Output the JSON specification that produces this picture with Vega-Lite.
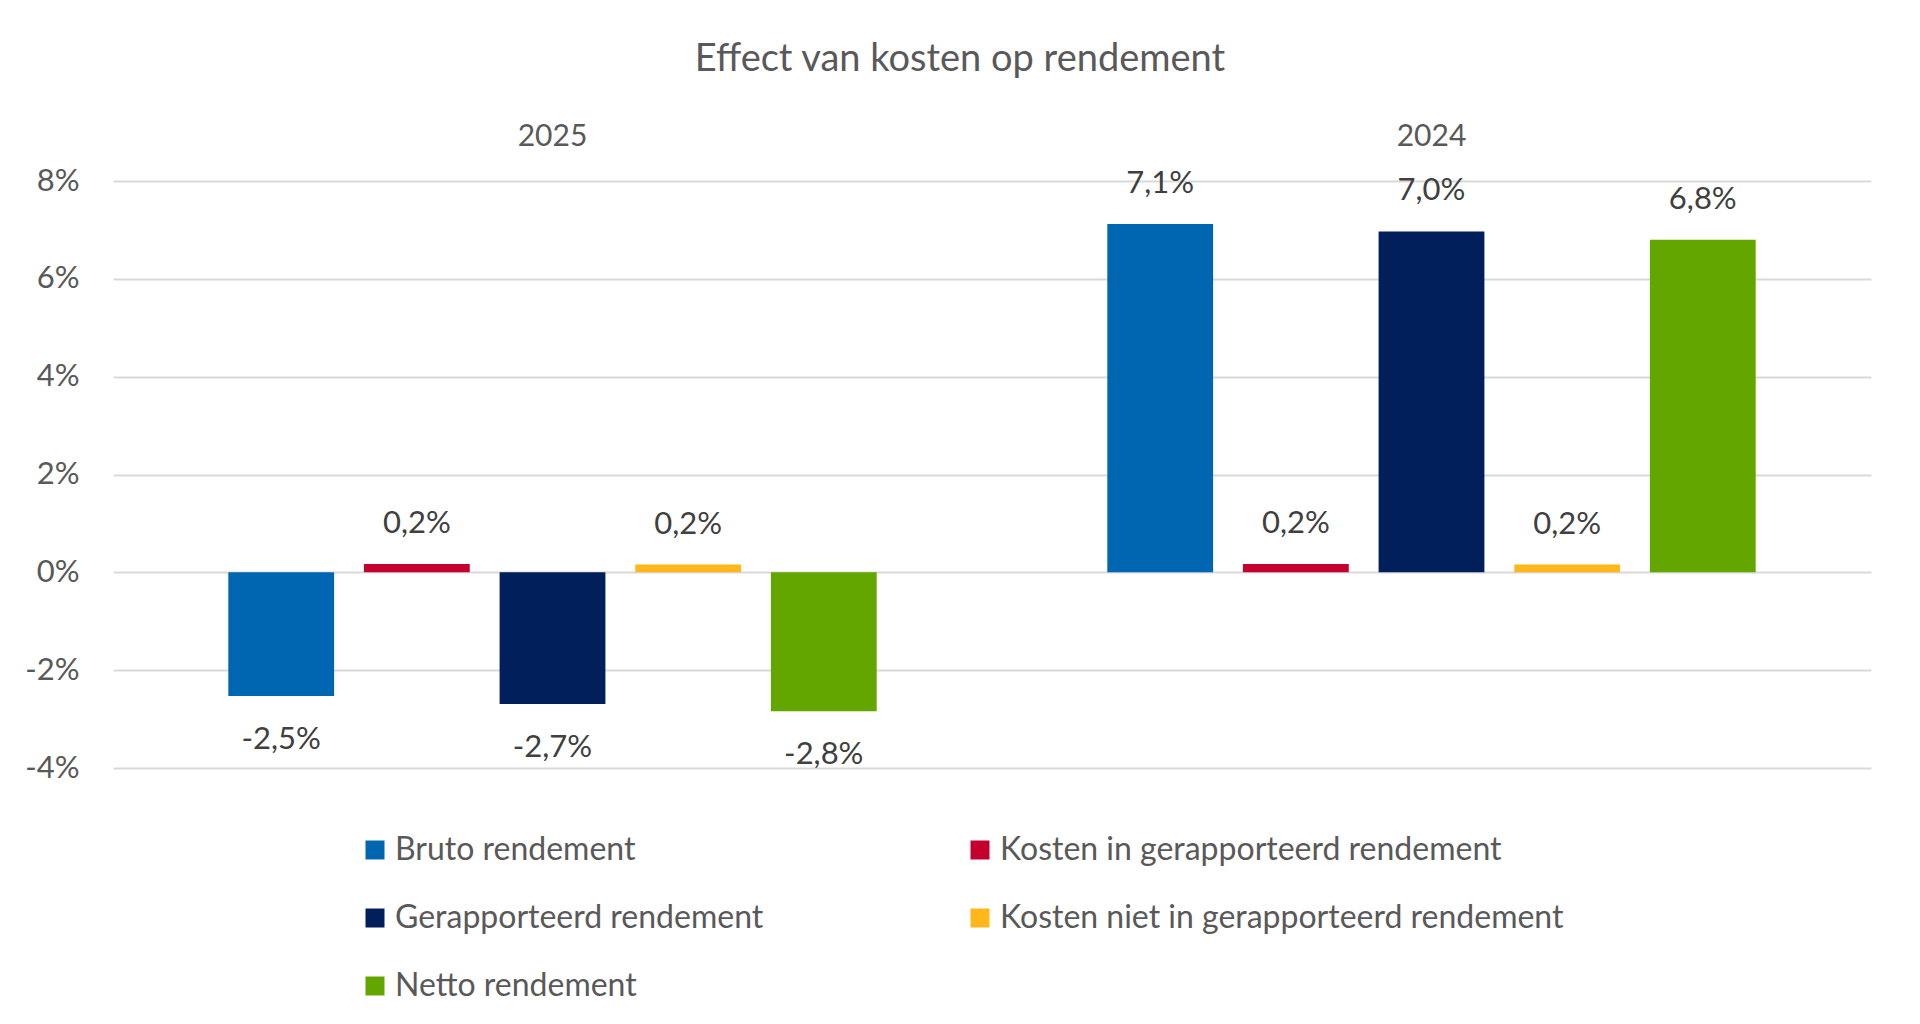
{
  "$schema": "https://vega.github.io/schema/vega-lite/v6.json",
  "autosize": "none",
  "width": 1758,
  "height": 587,
  "padding": {"left": 113, "top": 181, "right": 49, "bottom": 256},
  "background": "white",
  "title": {
    "text": "Effect van kosten op rendement",
    "fontSize": 38,
    "font": "Lato",
    "fontWeight": "normal",
    "color": "#595959",
    "anchor": "middle",
    "dx": -32,
    "offset": 42
  },
  "data": {
    "values": [
      {"jaar": "2025", "reeks": "Bruto rendement", "waarde": -0.0253},
      {"jaar": "2025", "reeks": "Kosten in gerapporteerd rendement", "waarde": 0.0017},
      {"jaar": "2025", "reeks": "Gerapporteerd rendement", "waarde": -0.0269},
      {"jaar": "2025", "reeks": "Kosten niet in gerapporteerd rendement", "waarde": 0.0016},
      {"jaar": "2025", "reeks": "Netto rendement", "waarde": -0.0284},
      {"jaar": "2024", "reeks": "Bruto rendement", "waarde": 0.0712},
      {"jaar": "2024", "reeks": "Kosten in gerapporteerd rendement", "waarde": 0.0017},
      {"jaar": "2024", "reeks": "Gerapporteerd rendement", "waarde": 0.0697},
      {"jaar": "2024", "reeks": "Kosten niet in gerapporteerd rendement", "waarde": 0.0016},
      {"jaar": "2024", "reeks": "Netto rendement", "waarde": 0.068}
    ]
  },
  "encoding": {
    "x": {
      "field": "jaar",
      "type": "nominal",
      "sort": ["2025", "2024"],
      "scale": {"paddingInner": 0, "paddingOuter": 0},
      "axis": {
        "orient": "top",
        "title": null,
        "domain": false,
        "ticks": false,
        "grid": false,
        "labelAngle": 0,
        "labelBaseline": "middle",
        "labelPadding": 45,
        "labelFontSize": 30,
        "labelFont": "Lato",
        "labelColor": "#595959"
      }
    },
    "xOffset": {
      "field": "reeks",
      "type": "nominal",
      "sort": [
        "Bruto rendement",
        "Kosten in gerapporteerd rendement",
        "Gerapporteerd rendement",
        "Kosten niet in gerapporteerd rendement",
        "Netto rendement"
      ],
      "scale": {"paddingInner": 0.22, "paddingOuter": 0.85}
    },
    "y": {
      "field": "waarde",
      "type": "quantitative",
      "scale": {"domain": [-0.04, 0.08], "nice": false, "zero": false},
      "axis": {
        "title": null,
        "values": [-0.04, -0.02, 0, 0.02, 0.04, 0.06, 0.08],
        "format": ".0%",
        "domain": false,
        "ticks": false,
        "labelPadding": 34,
        "labelFontSize": 31,
        "labelFont": "Lato",
        "labelColor": "#595959",
        "gridColor": "#d9d9d9",
        "gridWidth": 2
      }
    }
  },
  "layer": [
    {
      "mark": {"type": "bar"},
      "encoding": {
        "color": {
          "field": "reeks",
          "type": "nominal",
          "scale": {
            "domain": [
              "Bruto rendement",
              "Kosten in gerapporteerd rendement",
              "Gerapporteerd rendement",
              "Kosten niet in gerapporteerd rendement",
              "Netto rendement"
            ],
            "range": ["#0066b2", "#c4002f", "#001f5b", "#ffb71b", "#63a600"]
          },
          "legend": {
            "title": null,
            "orient": "none",
            "legendX": 246,
            "legendY": 653,
            "direction": "horizontal",
            "columns": 2,
            "columnPadding": 200,
            "rowPadding": 36,
            "symbolType": "square",
            "symbolSize": 361,
            "symbolStrokeWidth": 0,
            "labelOffset": 4,
            "labelFontSize": 32,
            "labelFont": "Lato",
            "labelColor": "#595959",
            "labelLimit": 800
          }
        }
      }
    },
    {
      "transform": [{"filter": "datum.waarde >= 0"}],
      "mark": {"type": "text", "dy": -40, "baseline": "middle", "fontSize": 31, "font": "Lato", "color": "#404040"},
      "encoding": {"text": {"field": "waarde", "type": "quantitative", "format": ".1%"}}
    },
    {
      "transform": [{"filter": "datum.waarde < 0"}],
      "mark": {"type": "text", "dy": 44, "baseline": "middle", "fontSize": 31, "font": "Lato", "color": "#404040"},
      "encoding": {"text": {"field": "waarde", "type": "quantitative", "format": ".1%"}}
    }
  ],
  "config": {
    "view": {"stroke": null},
    "locale": {
      "number": {
        "decimal": ",",
        "thousands": ".",
        "grouping": [3],
        "currency": ["€ ", ""],
        "minus": "-"
      }
    }
  }
}
